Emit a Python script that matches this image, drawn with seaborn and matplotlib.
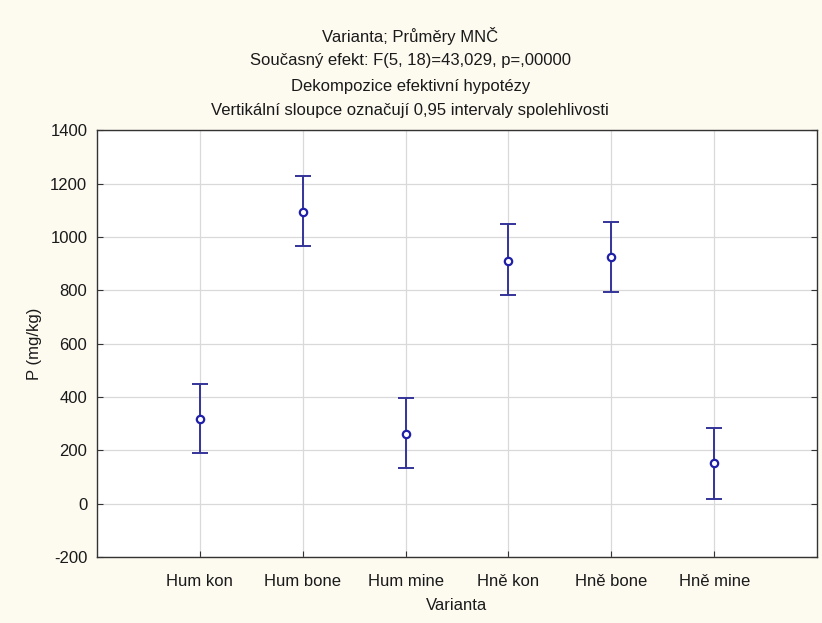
import matplotlib
matplotlib.use("Agg")
import matplotlib.pyplot as plt
import seaborn as sns
import pandas as pd

categories = ["Hum kon", "Hum bone", "Hum mine", "Hně kon", "Hně bone", "Hně mine"]
means = [316, 1093, 260, 910, 925, 151]
ci_low = [189, 966, 133, 783, 793, 19]
ci_high = [450, 1229, 395, 1047, 1056, 282]
yticks = [-200, 0, 200, 400, 600, 800, 1000, 1200, 1400]

title_lines = [
    "Varianta; Průměry MNČ",
    "Současný efekt: F(5, 18)=43,029, p=,00000",
    "Dekompozice efektivní hypotézy",
    "Vertikální sloupce označují 0,95 intervaly spolehlivosti",
]

sns.set_theme(style="white")
plt.rcParams["font.family"] = ["Liberation Sans", "DejaVu Sans"]

bg = "#fdfaf0"
navy = "#34349a"
blue = "#1f1fa8"

df = pd.DataFrame({"Varianta": categories, "P": means,
                   "lo": ci_low, "hi": ci_high})
df["pos"] = range(len(df))

fig = plt.figure(figsize=(8.22, 6.23), dpi=100, facecolor=bg)
ax = fig.add_axes([0.118, 0.106, 0.876, 0.685])
ax.set_facecolor("white")

ax.errorbar(df["pos"], df["P"],
            yerr=[df["P"] - df["lo"], df["hi"] - df["P"]],
            fmt="none", ecolor=navy, elinewidth=1.4, capsize=6, capthick=1.4,
            zorder=3)
sns.scatterplot(data=df, x="pos", y="P", ax=ax, marker="o", s=28,
                facecolor="white", edgecolor=blue, linewidth=1.6, zorder=4,
                legend=False)

ax.set_xlim(-1, len(categories))
ax.set_ylim(-200, 1400)
ax.set_xticks(df["pos"])
ax.set_xticklabels(categories)
ax.set_yticks(yticks)
ax.set_yticklabels([str(v) for v in yticks])
ax.grid(True, color="#d9d9d9", linewidth=0.9)
ax.set_axisbelow(True)
for s in ax.spines.values():
    s.set_color("#333333")
    s.set_linewidth(1.0)
    s.set_visible(True)
ax.tick_params(axis="both", direction="in", length=4, width=0.8,
               color="#333333", labelsize=12, labelcolor="#1a1a1a",
               left=True, bottom=True, right=True, top=False)
ax.tick_params(axis="y", pad=7)
ax.tick_params(axis="x", pad=12)
ax.set_xlabel("Varianta", fontsize=12, color="#1a1a1a", labelpad=7)
ax.set_ylabel("P (mg/kg)", fontsize=12, color="#1a1a1a", labelpad=6)

for i, line in enumerate(title_lines):
    fig.text(0.499, 1 - (36 + 25 * i) / 623, line, ha="center", va="center",
             fontsize=12, color="#1a1a1a")

fig.savefig("out.png", dpi=100, facecolor=bg)
